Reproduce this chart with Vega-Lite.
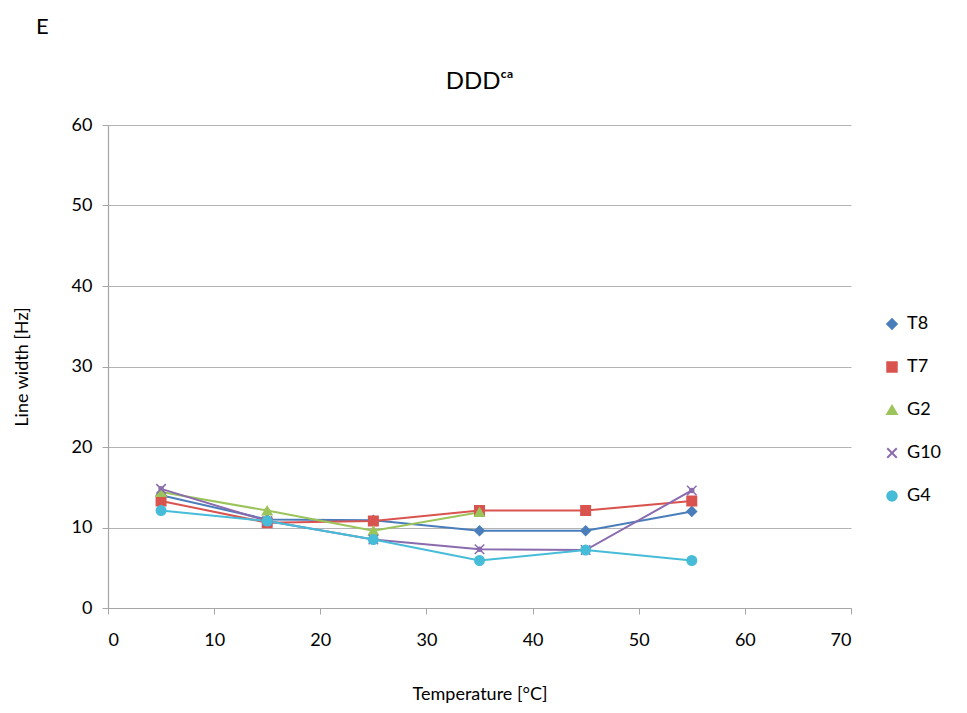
{
  "$schema": "https://vega.github.io/schema/vega-lite/v6.json",
  "background": "white",
  "padding": {"left": 13, "top": 16, "right": 10, "bottom": 10},
  "title": {"text": "E", "anchor": "start", "frame": "bounds", "fontSize": 22, "font": "Lato", "fontWeight": "normal", "color": "#000000", "offset": 31, "dx": 23},
  "config": {
    "font": "Lato",
    "view": {"stroke": null},
    "axis": {"labelFontSize": 18, "titleFontSize": 18, "labelColor": "#000000", "titleColor": "#000000", "titleFontWeight": "normal", "domainColor": "#a6a6a6", "tickColor": "#a6a6a6", "gridColor": "#b3b3b3", "gridWidth": 1.2, "domainWidth": 1.2}
  },
  "vconcat": [
    {
      "width": 743,
      "height": 483,
      "title": {"text": "DDDᶜᵃ", "fontSize": 24, "fontWeight": "normal", "font": "Lato", "color": "#000000", "offset": 22},
      "data": {"values": [
        {"s": "T8", "t": 5, "v": 14.0}, {"s": "T8", "t": 15, "v": 11.0}, {"s": "T8", "t": 25, "v": 10.9}, {"s": "T8", "t": 35, "v": 9.6}, {"s": "T8", "t": 45, "v": 9.6}, {"s": "T8", "t": 55, "v": 12.0},
        {"s": "T7", "t": 5, "v": 13.3}, {"s": "T7", "t": 15, "v": 10.6}, {"s": "T7", "t": 25, "v": 10.8}, {"s": "T7", "t": 35, "v": 12.1}, {"s": "T7", "t": 45, "v": 12.1}, {"s": "T7", "t": 55, "v": 13.3},
        {"s": "G2", "t": 5, "v": 14.4}, {"s": "G2", "t": 15, "v": 12.1}, {"s": "G2", "t": 25, "v": 9.6}, {"s": "G2", "t": 35, "v": 11.9},
        {"s": "G10", "t": 5, "v": 14.8}, {"s": "G10", "t": 15, "v": 10.8}, {"s": "G10", "t": 25, "v": 8.5}, {"s": "G10", "t": 35, "v": 7.3}, {"s": "G10", "t": 45, "v": 7.2}, {"s": "G10", "t": 55, "v": 14.6},
        {"s": "G4", "t": 5, "v": 12.1}, {"s": "G4", "t": 15, "v": 10.8}, {"s": "G4", "t": 25, "v": 8.5}, {"s": "G4", "t": 35, "v": 5.9}, {"s": "G4", "t": 45, "v": 7.2}, {"s": "G4", "t": 55, "v": 5.9}
      ]},
      "encoding": {
        "x": {"field": "t", "type": "quantitative", "scale": {"domain": [0, 70], "nice": false}, "axis": {"values": [0, 10, 20, 30, 40, 50, 60, 70], "title": "Temperature [°C]", "grid": false, "titlePadding": 36, "labelPadding": 17, "tickSize": 6}},
        "y": {"field": "v", "type": "quantitative", "scale": {"domain": [0, 60], "nice": false}, "axis": {"values": [0, 10, 20, 30, 40, 50, 60], "title": "Line width [Hz]", "titlePadding": 40, "labelPadding": 10, "tickSize": 6}},
        "color": {"field": "s", "type": "nominal", "scale": {"domain": ["T8", "T7", "G2", "G10", "G4"], "range": ["#4a7ebb", "#d9534f", "#9bc45a", "#8a6bae", "#46bcd8"]}, "legend": {"title": null, "orient": "none", "legendX": 775, "legendY": 190, "labelFontSize": 18, "rowPadding": 25, "symbolSize": 90, "symbolStrokeWidth": 2, "labelOffset": 6}},
        "shape": {"field": "s", "type": "nominal", "scale": {"domain": ["T8", "T7", "G2", "G10", "G4"], "range": ["diamond", "square", "triangle-up", "M-1,-1L1,1M-1,1L1,-1", "circle"]}, "legend": {"title": null}}
      },
      "layer": [
        {"mark": {"type": "line", "strokeWidth": 2}, "encoding": {"shape": {"value": null}}},
        {"mark": {"type": "point", "filled": true, "size": 90, "opacity": 1, "strokeWidth": 1.5}, "encoding": {"stroke": {"field": "s", "type": "nominal", "scale": {"domain": ["T8", "T7", "G2", "G10", "G4"], "range": ["#4a7ebb", "#d9534f", "#9bc45a", "#8a6bae", "#46bcd8"]}, "legend": null}}}
      ]
    }
  ]
}
